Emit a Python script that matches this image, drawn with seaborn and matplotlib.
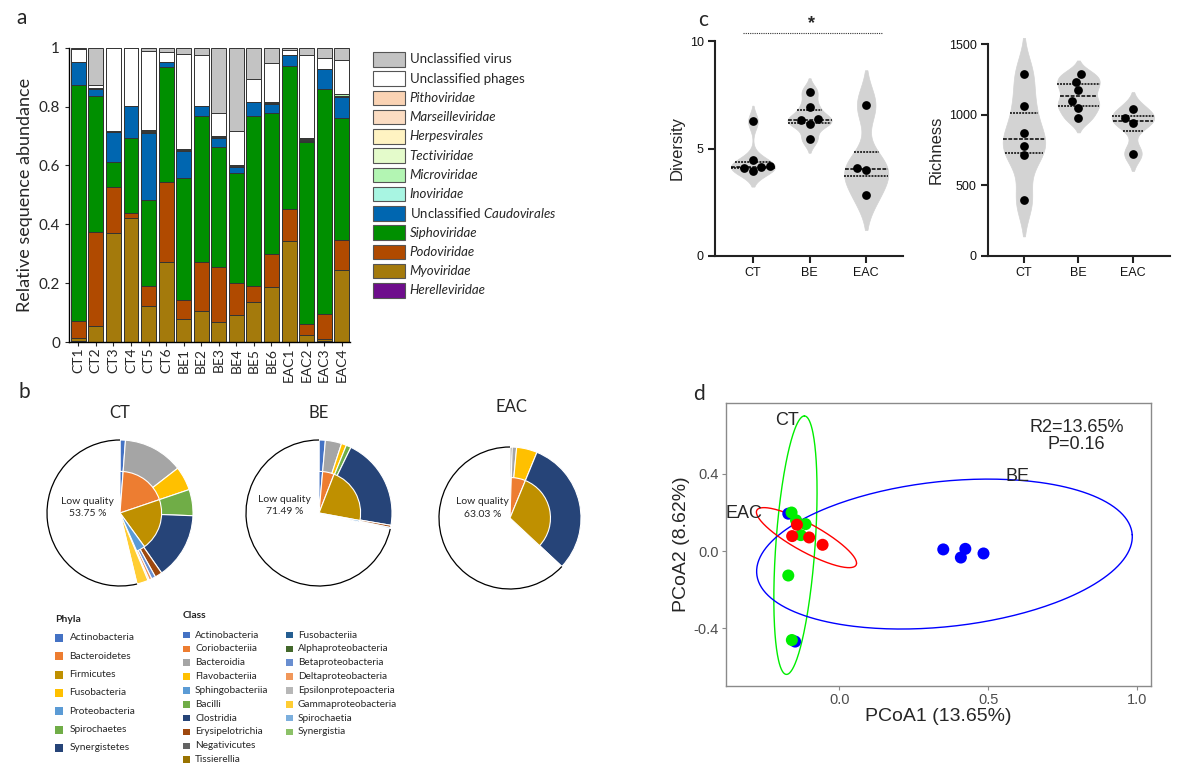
import numpy as np
import pandas as pd
import matplotlib
matplotlib.use("Agg")
import matplotlib.pyplot as plt
import seaborn as sns
from matplotlib.patches import Rectangle, Arc

sns.set_style("ticks")
plt.rcParams['font.family'] = ['Lato', 'DejaVu Sans']
plt.rcParams['mathtext.fontset'] = 'custom'
plt.rcParams['mathtext.rm'] = 'Lato'
plt.rcParams['mathtext.it'] = 'Lato:italic'

ARIAL = ['Liberation Sans', 'DejaVu Sans']
LATO = ['Lato', 'DejaVu Sans']

# ---------------- data: panel a ----------------
samples = ['CT1', 'CT2', 'CT3', 'CT4', 'CT5', 'CT6', 'BE1', 'BE2', 'BE3', 'BE4',
           'BE5', 'BE6', 'EAC1', 'EAC2', 'EAC3', 'EAC4']
# legend order (top to bottom)
families = ['Unclassified virus', 'Unclassified phages', 'Pithoviridae', 'Marseilleviridae',
            'Herpesvirales', 'Tectiviridae', 'Microviridae', 'Inoviridae',
            'Unclassified Caudovirales', 'Siphoviridae', 'Podoviridae', 'Myoviridae',
            'Herelleviridae']
family_colors = ['#C3C3C3', '#FFFFFF', '#FAD3B4', '#FBDCC2', '#FFF3C2', '#E4FBCB',
                 '#B3F5B3', '#A8F5E2', '#0066B0', '#008F00', '#B04A00', '#A47A0C', '#6E0D8C']
italic_fam = [False, False, True, True, True, True, True, True, None, True, True, True, True]

herelle = [0.003, 0, 0, 0, 0, 0, 0, 0, 0, 0, 0, 0, 0, 0, 0.002, 0]
myo = [0.009, 0.053, 0.370, 0.420, 0.123, 0.271, 0.078, 0.106, 0.069, 0.093, 0.136, 0.187, 0.344, 0.023, 0.008, 0.245]
podo = [0.060, 0.320, 0.155, 0.017, 0.066, 0.274, 0.066, 0.167, 0.186, 0.107, 0.055, 0.112, 0.108, 0.038, 0.085, 0.101]
sipho = [0.800, 0.464, 0.085, 0.255, 0.294, 0.390, 0.413, 0.496, 0.407, 0.373, 0.577, 0.480, 0.486, 0.617, 0.764, 0.416]
caudo = [0.080, 0.022, 0.104, 0.111, 0.228, 0.016, 0.092, 0.034, 0.031, 0.020, 0.047, 0.030, 0.037, 0.006, 0.067, 0.072]
ino = [0, 0, 0, 0, 0.002, 0, 0.002, 0, 0.002, 0.002, 0, 0.002, 0, 0.002, 0, 0.002]
micro = [0, 0.002, 0.002, 0, 0.004, 0, 0.004, 0, 0.004, 0.004, 0.002, 0.004, 0, 0.005, 0, 0.005]
tecti = [0, 0.002, 0.002, 0, 0.003, 0, 0.002, 0, 0.002, 0.002, 0, 0.002, 0, 0.002, 0, 0.002]
herpes = [0] * 16
marseille = [0] * 16
pitho = [0] * 16
phages = [0.043, 0.010, 0.282, 0.197, 0.270, 0.033, 0.320, 0.171, 0.078, 0.117, 0.076, 0.132, 0.017, 0.282, 0.040, 0.115]
virus = [0.005, 0.127, 0, 0, 0.010, 0.016, 0.023, 0.026, 0.221, 0.282, 0.107, 0.051, 0.008, 0.025, 0.034, 0.042]

# ---------------- data: panel b ----------------
phyla = ['Actinobacteria', 'Bacteroidetes', 'Firmicutes', 'Fusobacteria', 'Proteobacteria',
         'Spirochaetes', 'Synergistetes']
phyla_colors = ['#4472C4', '#ED7D31', '#BF9000', '#FFC000', '#5B9BD5', '#70AD47', '#264478']
classes = ['Actinobacteria', 'Coriobacteriia', 'Bacteroidia', 'Flavobacteriia', 'Sphingobacteriia',
           'Bacilli', 'Clostridia', 'Erysipelotrichia', 'Negativicutes', 'Tissierellia',
           'Fusobacteriia', 'Alphaproteobacteria', 'Betaproteobacteria', 'Deltaproteobacteria',
           'Epsilonprotepoacteria', 'Gammaproteobacteria', 'Spirochaetia', 'Synergistia']
class_colors = ['#4472C4', '#ED7D31', '#A5A5A5', '#FFC000', '#5B9BD5', '#70AD47', '#264478',
                '#9E480E', '#636363', '#997300', '#255E91', '#43682B', '#698ED0', '#F1975A',
                '#B7B7B7', '#FFCD33', '#7CAFDD', '#8CC168']

pie_groups = ['CT', 'BE', 'EAC']
low_quality = [53.75, 71.49, 63.03]
ct_class_names = ['Actinobacteria', 'Bacteroidia', 'Flavobacteriia', 'Bacilli', 'Clostridia',
                  'Erysipelotrichia', 'Betaproteobacteria', 'Deltaproteobacteria',
                  'Epsilonprotepoacteria', 'Gammaproteobacteria']
ct_class_vals = [1.2, 13.3, 5.3, 5.8, 14.75, 1.6, 0.9, 0.6, 0.3, 2.5]
ct_phyla_names = ['Actinobacteria', 'Bacteroidetes', 'Firmicutes', 'Proteobacteria']
ct_phyla_vals = [1.2, 18.6, 20.2, 3.4]
be_class_names = ['Actinobacteria', 'Bacteroidia', 'Flavobacteriia', 'Bacilli', 'Clostridia',
                  'Erysipelotrichia', 'Sphingobacteriia']
be_class_vals = [1.4, 3.6, 1.1, 1.1, 20.5, 0.5, 0.31]
be_phyla_names = ['Actinobacteria', 'Bacteroidetes', 'Firmicutes', 'Proteobacteria']
be_phyla_vals = [1.4, 4.5, 22.0, 0.6]
eac_class_names = ['Negativicutes', 'Bacteroidia', 'Flavobacteriia', 'Clostridia']
eac_class_vals = [0.5, 1.0, 4.7, 30.77]
eac_phyla_names = [None, 'Bacteroidetes', 'Firmicutes']
eac_phyla_vals = [0.5, 5.7, 30.77]

# ---------------- data: panel c ----------------
groups = ['CT', 'BE', 'EAC']
div_group = ['CT'] * 6 + ['BE'] * 6 + ['EAC'] * 4
diversity = [6.26, 4.46, 3.96, 4.18, 4.07, 4.12,
             7.64, 6.94, 6.35, 6.16, 6.32, 5.43,
             7.02, 4.10, 4.02, 2.83]
richness = [1287, 1061, 872, 780, 713, 395,
            1233, 1285, 1174, 1096, 1049, 973,
            1037, 973, 938, 725]

# ---------------- data: panel d ----------------
pcoa_group = ['BE'] * 6 + ['CT'] * 6 + ['EAC'] * 4
pcoa1 = [0.349, 0.423, 0.408, 0.484, -0.171, -0.148,
         -0.160, -0.113, -0.129, -0.171, -0.159, -0.145,
         -0.142, -0.158, -0.101, -0.056]
pcoa2 = [0.009, 0.012, -0.033, -0.012, 0.194, -0.468,
         0.200, 0.140, 0.083, -0.126, -0.460, 0.160,
         0.137, 0.078, 0.071, 0.033]
pcoa_colors = {'CT': '#00EE00', 'BE': '#0000FF', 'EAC': '#FF0000'}
ell_center = {'CT': (-0.147, 0.031), 'BE': (0.353, -0.015), 'EAC': (-0.110, 0.070)}
ell_u = {'CT': (0.030, 0.669), 'BE': (0.630, 0.100), 'EAC': (0.168, -0.132)}
ell_v = {'CT': (0.066, 0.0), 'BE': (-0.017, 0.375), 'EAC': (0.0, 0.082)}
ell_label_pos = {'CT': (-0.177, 0.677), 'EAC': (-0.319, 0.197), 'BE': (0.598, 0.387)}

# ---------------- figure ----------------
W, H = 1204, 772
fig = plt.figure(figsize=(W / 100, H / 100), dpi=100)


def px_axes(x0, y0, x1, y1):
    return fig.add_axes([x0 / W, 1 - y1 / H, (x1 - x0) / W, (y1 - y0) / H])


def set_tick_font(ax, family, size=None, color=None):
    for lab in ax.get_xticklabels() + ax.get_yticklabels():
        lab.set_family(family)
        if size:
            lab.set_fontsize(size)
        if color:
            lab.set_color(color)


# ---- panel a ----
axa = px_axes(69, 47.7, 350, 342)
layers = [herelle, myo, podo, sipho, caudo, ino, micro, tecti, herpes, marseille, pitho, phages, virus]
layer_colors = family_colors[::-1]
cum = np.cumsum(np.array(layers, dtype=float), axis=0)
for i in range(len(layers) - 1, -1, -1):
    sns.barplot(x=samples, y=cum[i], color=layer_colors[i], saturation=1, width=0.85,
                edgecolor='#333333', linewidth=0.7, errorbar=None, ax=axa)
axa.set_xlim(-0.53, 15.47)
axa.set_ylim(0, 1)
axa.set_yticks([0, 0.2, 0.4, 0.6, 0.8, 1.0])
axa.set_yticklabels(['0', '0.2', '0.4', '0.6', '0.8', '1'])
axa.tick_params(axis='x', rotation=90, labelsize=10, length=3, pad=1)
axa.tick_params(axis='y', labelsize=11, length=3)
axa.set_ylabel('Relative sequence abundance', fontsize=13, labelpad=4)
for s in ['top', 'right']:
    axa.spines[s].set_visible(False)
for s in ['left', 'bottom']:
    axa.spines[s].set_color('black')
    axa.spines[s].set_linewidth(1.0)

# ---- panel b: pies ----
pie_centers = [(120, 513, 73), (319, 513, 73), (510, 518, 71)]
pie_class = [(ct_class_names, ct_class_vals), (be_class_names, be_class_vals), (eac_class_names, eac_class_vals)]
pie_phyla = [(ct_phyla_names, ct_phyla_vals), (be_phyla_names, be_phyla_vals), (eac_phyla_names, eac_phyla_vals)]
lq_text_off = [(-0.44, 0.08), (-0.47, 0.10), (-0.39, 0.14)]
cmap_class = dict(zip(classes, class_colors))
cmap_phyla = dict(zip(phyla, phyla_colors))
for k, g in enumerate(pie_groups):
    cx, cy, r = pie_centers[k]
    m = 1.12
    axp = px_axes(cx - m * r, cy - m * r, cx + m * r, cy + m * r)
    names, vals = pie_class[k]
    wedges, _ = axp.pie(list(vals) + [low_quality[k]],
                        colors=[cmap_class[n] for n in names] + ['white'],
                        startangle=90, counterclock=False, radius=1.0,
                        wedgeprops=dict(edgecolor='white', linewidth=0.8))
    w = wedges[-1]
    axp.add_patch(Arc((0, 0), 2, 2, theta1=w.theta1, theta2=w.theta2, color='black', lw=0.9))
    pn, pv = pie_phyla[k]
    rest = 100 - sum(pv)
    pcols = [cmap_phyla[n] if n else 'none' for n in pn] + ['none']
    iw, _ = axp.pie(list(pv) + [rest], colors=pcols, startangle=90, counterclock=False,
                    radius=0.57, wedgeprops=dict(edgecolor='white', linewidth=0.8))
    for wi, n in zip(iw, list(pn) + [None]):
        if n is None:
            wi.set_edgecolor('none')
    axp.set_xlim(-m, m)
    axp.set_ylim(-m, m)
    axp.set_aspect('equal')
    dx, dy = lq_text_off[k]
    axp.text(dx, dy, 'Low quality\n%.2f %%' % low_quality[k], ha='center', va='center',
             fontsize=7.5, family=LATO, linespacing=1.45)

# ---- panel c ----
axc1 = px_axes(715, 41, 903, 256)
axc2 = px_axes(988, 44, 1170, 256)
for ax, vals, lim, ticks, lab, xl in [(axc1, diversity, (0, 10), [0, 5, 10], 'Diversity', (-0.67, 2.65)),
                                       (axc2, richness, (0, 1500), [0, 500, 1000, 1500], 'Richness', (-0.66, 2.68))]:
    sns.violinplot(x=div_group, y=vals, order=groups, color='#D3D3D3', saturation=1,
                   inner='quart', linecolor='#D3D3D3', linewidth=0.5,
                   inner_kws=dict(color='black', linewidth=1.1),
                   density_norm='width', width=0.78, bw_adjust=0.6, cut=2, ax=ax)
    sns.swarmplot(x=div_group, y=vals, order=groups, color='black', size=6.3, ax=ax)
    ax.set_ylim(*lim)
    ax.set_xlim(*xl)
    ax.set_yticks(ticks)
    ax.set_yticklabels([str(t) for t in ticks])
    for s in ['top', 'right']:
        ax.spines[s].set_visible(False)
    for s in ['left', 'bottom']:
        ax.spines[s].set_color('#222222')
        ax.spines[s].set_linewidth(1.5)
    ax.tick_params(length=5, width=1.5, color='#222222', labelsize=9, pad=3)
    ax.set_ylabel(lab, fontsize=12, family=ARIAL, labelpad=4)
    ax.set_xlabel('')
    set_tick_font(ax, ARIAL, 9, '#111111')
    for c in ax.collections:
        c.set_clip_on(False)

# ---- panel d ----
axd = px_axes(726, 403, 1151, 686)
dfd = pd.DataFrame({'PCoA1': pcoa1, 'PCoA2': pcoa2, 'group': pcoa_group})
sns.scatterplot(data=dfd, x='PCoA1', y='PCoA2', hue='group', palette=pcoa_colors, s=75,
                linewidth=0, legend=False, ax=axd, zorder=3)
t = np.linspace(0, 2 * np.pi, 300)
for g in ['CT', 'BE', 'EAC']:
    c = np.array(ell_center[g]); u = np.array(ell_u[g]); v = np.array(ell_v[g])
    pts = c[:, None] + u[:, None] * np.cos(t) + v[:, None] * np.sin(t)
    axd.plot(pts[0], pts[1], color=pcoa_colors[g], lw=1.0, zorder=2)
    lx, ly = ell_label_pos[g]
    axd.text(lx, ly, g, ha='center', va='center', fontsize=13, family=ARIAL, zorder=4)
axd.text(0.797, 0.597, 'R2=13.65%\nP=0.16', ha='center', va='center', fontsize=13,
         family=ARIAL, linespacing=1.0, multialignment='center')
axd.set_xlim(-0.380, 1.046)
axd.set_ylim(-0.698, 0.767)
axd.set_xticks([0.0, 0.5, 1.0])
axd.set_xticklabels(['0.0', '0.5', '1.0'])
axd.set_yticks([-0.4, 0.0, 0.4])
axd.set_yticklabels(['-0.4', '0.0', '0.4'])
for s in axd.spines.values():
    s.set_color('#8A8A8A')
    s.set_linewidth(1.0)
axd.tick_params(length=3, color='#8A8A8A', labelsize=10.5, pad=2)
set_tick_font(axd, ARIAL, 10.5, '#4D4D4D')
axd.set_xlabel('PCoA1 (13.65%)', fontsize=14, family=ARIAL, labelpad=1)
axd.set_ylabel('PCoA2 (8.62%)', fontsize=14, family=ARIAL, labelpad=3)

# ---- overlay: letters, legends, annotations ----
ov = fig.add_axes([0, 0, 1, 1])
ov.set_xlim(0, W)
ov.set_ylim(H, 0)
ov.axis('off')
ov.patch.set_alpha(0)
for letter, (x, y) in zip('abcd', [(22, 18), (24, 392), (703, 20), (699, 394)]):
    ov.text(x, y, letter, fontsize=15, family=LATO, ha='center', va='center')

# legend a
for i, (name, col, it) in enumerate(zip(families, family_colors, italic_fam)):
    y = 59.3 + 19.25 * i
    ov.add_patch(Rectangle((373, y - 7.2), 32, 14.4, fc=col, ec='#555555', lw=0.8))
    if it is None:
        label = 'Unclassified $\\it{Caudovirales}$'
        ov.text(409.5, y, label, fontsize=9.5, family=LATO, va='center', ha='left')
    else:
        ov.text(409.5, y, name, fontsize=9.5, family=LATO, va='center', ha='left',
                style='italic' if it else 'normal')

# pie titles
for g, (x, y) in zip(pie_groups, [(120, 413), (319, 413), (511, 407)]):
    ov.text(x, y, g, fontsize=12, family=LATO, ha='center', va='center')

# legend b
ov.text(55, 619, 'Phyla', fontsize=7.5, weight='bold', family=LATO, va='center')
for i, (name, col) in enumerate(zip(phyla, phyla_colors)):
    y = 638 + 18.3 * i
    ov.add_patch(Rectangle((55, y - 4), 8, 8, fc=col, ec='none'))
    ov.text(69.5, y, name, fontsize=7.3, family=LATO, va='center')
ov.text(183, 615, 'Class', fontsize=7.5, weight='bold', family=LATO, va='center')
for i, (name, col) in enumerate(zip(classes, class_colors)):
    colx = 0 if i < 10 else 1
    row = i if i < 10 else i - 10
    y = 635 + 13.85 * row
    bx = 183 if colx == 0 else 286
    ov.add_patch(Rectangle((bx, y - 3.3), 6.6, 6.6, fc=col, ec='none'))
    ov.text(bx + 12, y, name, fontsize=7.2, family=LATO, va='center')

# significance bar panel c
ov.plot([743, 882], [32.5, 32.5], color='#333333', lw=0.8, ls=(0, (1, 1)))
ov.text(812, 24, '*', fontsize=13, weight='bold', family=ARIAL, ha='center', va='center')

fig.savefig('out.png', dpi=100)
